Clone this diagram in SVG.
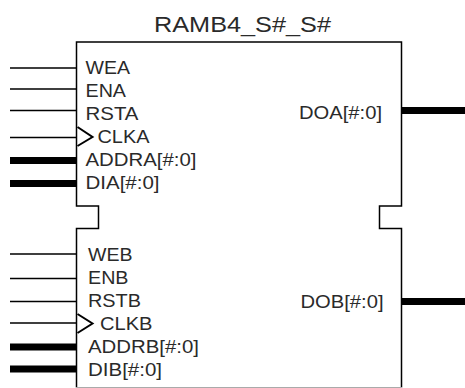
<svg xmlns="http://www.w3.org/2000/svg" width="465" height="388" viewBox="0 0 465 388">
<style>
text{font-family:"Liberation Sans",Arial,sans-serif;font-size:18px;fill:#2a2a2a}
.t{font-size:22.500px}
.o{fill:none;stroke:#000;stroke-width:1.500}
.k{fill:none;stroke:#000;stroke-width:2}
.p{stroke:#000;stroke-width:1.400;fill:none}
.b{stroke:#000;stroke-width:7;fill:none}
</style>
<rect width="465" height="388" fill="#fff"/>
<g id="connectors">
<path class="p" d="M10 68H76M10 89H76M10 110.500H76M10 137.500H76"/>
<path class="b" d="M10 160.500H76M10 183.500H76M402 110.500H465"/>
<path class="p" d="M10 254H76M10 278.500H76M10 301.500H76M10 323H76"/>
<path class="b" d="M10 347H76M10 369H76M402 301.500H465"/>
</g>
<g id="ramb">
<path class="o" d="M76.500 387.500V228.500H98.500V206H76.500V42H401.500V206H379.500V228.500H401.500V387.500"/>
<path d="M76 387.500H402" stroke="#aaa" stroke-width="1" fill="none"/>
<path class="k" d="M77.500 127L92.500 137L77.500 146"/>
<path class="k" d="M77.500 314L92.500 323.500L77.500 333"/>
<text class="t" x="154" y="31.500" textLength="177" lengthAdjust="spacingAndGlyphs">RAMB4_S#_S#</text>
<text x="85.500" y="74" textLength="44.500" lengthAdjust="spacingAndGlyphs">WEA</text>
<text x="85.500" y="96.500" textLength="40.500" lengthAdjust="spacingAndGlyphs">ENA</text>
<text x="85.500" y="119.500" textLength="53" lengthAdjust="spacingAndGlyphs">RSTA</text>
<text x="97.500" y="143" textLength="52" lengthAdjust="spacingAndGlyphs">CLKA</text>
<text x="85.500" y="165.500" textLength="111" lengthAdjust="spacingAndGlyphs">ADDRA[#:0]</text>
<text x="85.500" y="188.500" textLength="74" lengthAdjust="spacingAndGlyphs">DIA[#:0]</text>
<text x="299" y="119" textLength="83" lengthAdjust="spacingAndGlyphs">DOA[#:0]</text>
<text x="88" y="260.500" textLength="44.500" lengthAdjust="spacingAndGlyphs">WEB</text>
<text x="88" y="283.500" textLength="40.500" lengthAdjust="spacingAndGlyphs">ENB</text>
<text x="88" y="306.500" textLength="53" lengthAdjust="spacingAndGlyphs">RSTB</text>
<text x="100" y="329.500" textLength="52.500" lengthAdjust="spacingAndGlyphs">CLKB</text>
<text x="88" y="352.500" textLength="111" lengthAdjust="spacingAndGlyphs">ADDRB[#:0]</text>
<text x="88" y="375.500" textLength="74" lengthAdjust="spacingAndGlyphs">DIB[#:0]</text>
<text x="300.500" y="307.500" textLength="83" lengthAdjust="spacingAndGlyphs">DOB[#:0]</text>
</g>
</svg>
